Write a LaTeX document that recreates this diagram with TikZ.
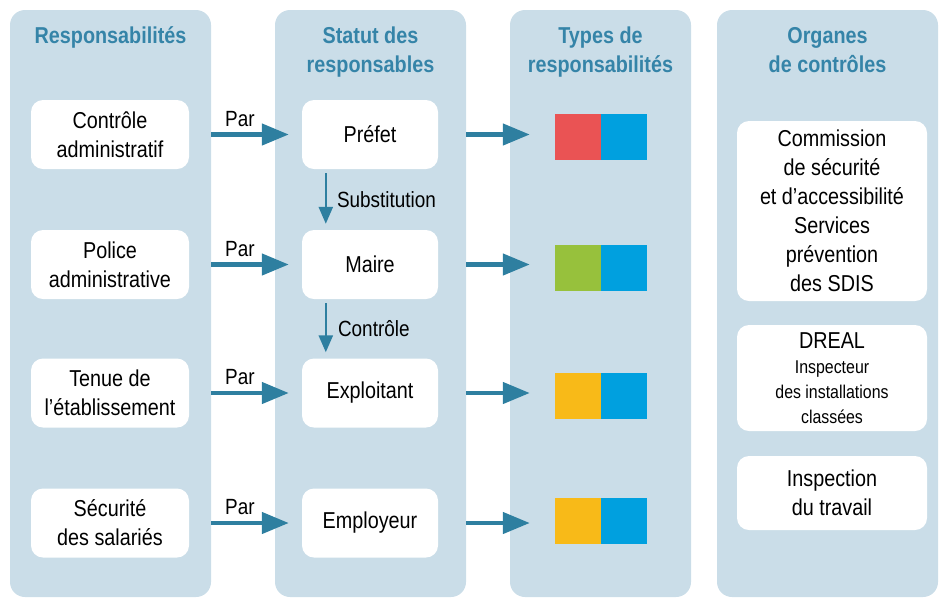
\documentclass[tikz,border=0pt]{standalone}
\usepackage{fontspec}
\setmainfont{Liberation Sans}[FakeStretch=0.86]
\usetikzlibrary{arrows.meta}
\usetikzlibrary{calc}
\definecolor{panelbg}{HTML}{CADDE8}
\definecolor{headblue}{HTML}{3584A8}
\definecolor{arrowblue}{HTML}{2E7FA0}
\definecolor{typered}{HTML}{EA5354}
\definecolor{typeblue}{HTML}{00A0DF}
\definecolor{typegreen}{HTML}{97C13C}
\definecolor{typeyellow}{HTML}{F8BA18}
\newcommand{\panel}[4]{ \fill[panelbg,rounded corners=15pt] ( #1 , 10 ) rectangle ( #2 , 597 ); \node[head] (#3) at ( {(#1+#2)/2} , #4 ) {};}
\newcommand{\typepair}[4]{ \node[typesq,fill=#3] (#1) at ( 578 , #2 ) {}; \node[typesq,fill=#4] (#1b) at ( 624 , #2 ) {};}
\tikzset{
  head/.style={inner sep=0pt,text=headblue,font=\fontsize{23}{29}\selectfont\bfseries,align=center,anchor=base},
  box/.style={fill=white,rounded corners=12pt,align=center,inner sep=0pt,font=\fontsize{23}{29}\selectfont},
  typesq/.style={inner sep=0pt,minimum size=46pt},
  bigarrow/.style={arrowblue,line width=4.5pt,-{Triangle[length=27pt,width=21pt]}},
  thinarrow/.style={arrowblue,line width=2.5pt,-{Triangle[length=17pt,width=14pt]}},
  lbl/.style={text=black,font=\fontsize{22}{26}\selectfont,inner sep=0pt}
}
\begin{document}
\begin{tikzpicture}[x=1pt,y=-1pt]
        \useasboundingbox (0,0) rectangle (941,598);
        % panels
        \panel{10}{211}{hd1}{43}
        \panel{275}{466}{hd2}{72}
        \panel{510}{691}{hd3}{72}
        \panel{717}{938}{hd4}{72}
        \node[head] at (hd1) {Responsabilités};
        \node[head] at (hd2) {Statut des\\responsables};
        \node[head] at (hd3) {Types de\\responsabilités};
        \node[head] at (hd4) {Organes\\de contrôles};

        % column1
        \node[box,minimum width=158pt,minimum height=69pt] (ctrl) at (110,134.5) {Contrôle\\administratif};
        \node[box,minimum width=158pt,minimum height=69pt] (police) at (110,264.5) {Police\\administrative};
        \node[box,minimum width=158pt,minimum height=69pt] (tenue) at (110,393) {Tenue de\\l’établissement};
        \node[box,minimum width=158pt,minimum height=69pt] (secu) at (110,523) {Sécurité\\des salariés};

        % column2
        \node[box,minimum width=136pt,minimum height=69pt] (prefet) at (370,134.5) {Préfet};
        \node[box,minimum width=136pt,minimum height=69pt] (maire) at (370,264.5) {Maire};
        \node[box,minimum width=136pt,minimum height=69pt] (exploit) at (370,393) {Exploitant};
        \node[box,minimum width=136pt,minimum height=69pt] (employ) at (370,523) {Employeur};

        % column3
        \typepair{t1}{137}{typered}{typeblue}
        \typepair{t2}{268}{typegreen}{typeblue}
        \typepair{t3}{396}{typeyellow}{typeblue}
        \typepair{t4}{521}{typeyellow}{typeblue}

        % column4
        \node[box,minimum width=190pt,minimum height=180pt] (csa) at (832,211) {Commission\\de sécurité\\et d’accessibilité\\Services\\prévention\\des SDIS};
        \node[box,minimum width=190pt,minimum height=106pt] (dreal) at (832,378) {DREAL\\[-4pt]\fontsize{18.5}{24}\selectfont Inspecteur\\[-4pt]\fontsize{18.5}{24}\selectfont des installations\\[-4pt]\fontsize{18.5}{24}\selectfont classées};
        \node[box,minimum width=190pt,minimum height=74pt] (travail) at (832,493) {Inspection\\du travail};

        % arrows par
        \draw[bigarrow,shorten <=22pt,shorten >=13pt] (ctrl) -- (prefet) node[lbl,pos=0.45,above=6pt] {Par};
        \draw[bigarrow,shorten <=22pt,shorten >=13pt] (police) -- (maire) node[lbl,pos=0.45,above=6pt] {Par};
        \draw[bigarrow,shorten <=22pt,shorten >=13pt] (tenue) -- (exploit) node[lbl,pos=0.45,above=6pt] {Par};
        \draw[bigarrow,shorten <=22pt,shorten >=13pt] (secu) -- (employ) node[lbl,pos=0.45,above=6pt] {Par};

        % arrows to types
        \draw[bigarrow,shorten <=28pt,shorten >=25pt] (prefet.east) -- (prefet.east -| t1.west);
        \draw[bigarrow,shorten <=28pt,shorten >=25pt] (maire.east) -- (maire.east -| t2.west);
        \draw[bigarrow,shorten <=28pt,shorten >=25pt] (exploit.east) -- (exploit.east -| t3.west);
        \draw[bigarrow,shorten <=28pt,shorten >=25pt] (employ.east) -- (employ.east -| t4.west);

        % substitution, controle
        \draw[thinarrow,shorten <=4pt,shorten >=6pt] ([xshift=24pt]prefet.south west) -- ([xshift=24pt]maire.north west) node[lbl,midway,right=10pt] {Substitution};
        \draw[thinarrow,shorten <=4pt,shorten >=6pt] ([xshift=24pt]maire.south west) -- ([xshift=24pt]exploit.north west) node[lbl,midway,right=11pt] {Contrôle};
\end{tikzpicture}
\end{document}
